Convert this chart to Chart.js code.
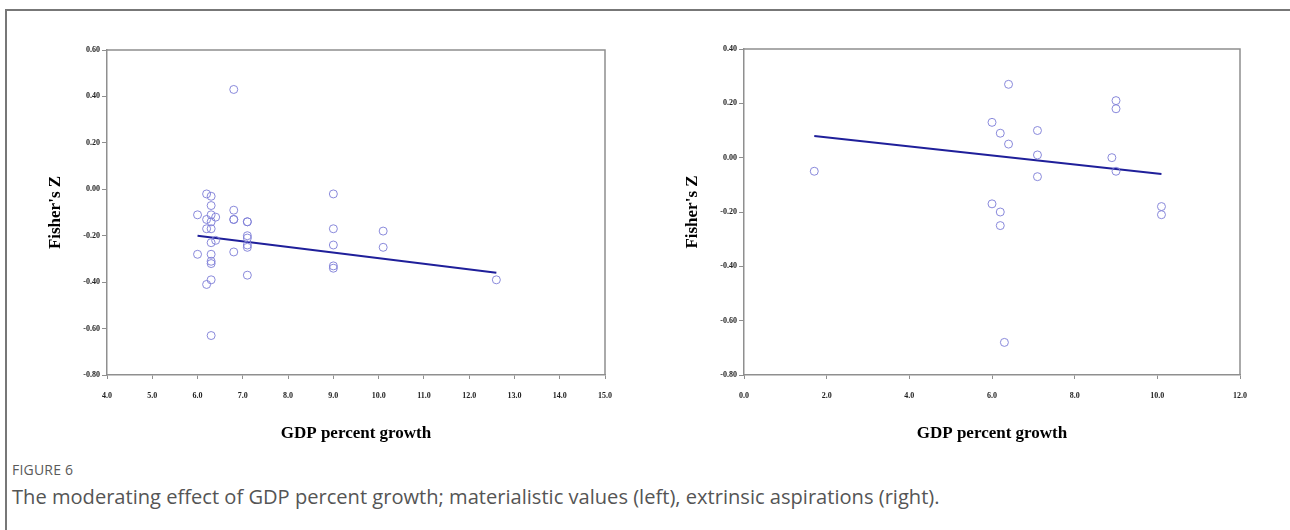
<!DOCTYPE html>
<html>
<head>
<meta charset="utf-8">
<script src="https://cdn.jsdelivr.net/npm/chart.js@4.4.1/dist/chart.umd.min.js"></script>
<style>
  html, body { margin: 0; padding: 0; background: #fff; }
  body { width: 1290px; height: 530px; position: relative; overflow: hidden; }
  .frame { position: absolute; left: 5px; top: 9px; width: 1300px; height: 600px;
           border-top: 2px solid #777; border-left: 2px solid #777; box-sizing: border-box; }
  .panel { position: absolute; top: 0; height: 460px; }
  #leftWrap { left: 0; width: 640px; }
  #rightWrap { left: 645px; width: 645px; }
  .fig-label { position: absolute; left: 12px; top: 460px; font-family: "Open Sans", sans-serif;
               font-size: 14px; line-height: 20px; color: #5a5a5a; letter-spacing: 0.2px; }
  .fig-caption { position: absolute; left: 12px; top: 484px; font-family: "Open Sans", sans-serif;
                 font-size: 20.1px; line-height: 26px; color: #555; white-space: nowrap; }
</style>
</head>
<body>
<div class="frame"></div>
<div class="panel" id="leftWrap"><canvas id="leftChart" width="640" height="460"></canvas></div>
<div class="panel" id="rightWrap"><canvas id="rightChart" width="645" height="460"></canvas></div>
<div class="fig-label">FIGURE 6</div>
<div class="fig-caption">The moderating effect of GDP percent growth; materialistic values (left), extrinsic aspirations (right).</div>

<script>
// Materialistic values: GDP growth (x) vs Fisher's Z (y)
const gdpLeft = [6.0, 6.0,
  6.2, 6.2, 6.2, 6.2,
  6.3, 6.3, 6.3, 6.3, 6.3, 6.3, 6.3, 6.3, 6.3, 6.3, 6.3,
  6.4, 6.4,
  6.8, 6.8, 6.8, 6.8, 6.8,
  7.1, 7.1, 7.1, 7.1, 7.1, 7.1, 7.1,
  9.0, 9.0, 9.0, 9.0, 9.0,
  10.1, 10.1,
  12.6];
const fisherLeft = [-0.11, -0.28,
  -0.02, -0.13, -0.17, -0.41,
  -0.03, -0.07, -0.11, -0.14, -0.17, -0.23, -0.28, -0.31, -0.32, -0.39, -0.63,
  -0.12, -0.22,
  0.43, -0.09, -0.13, -0.13, -0.27,
  -0.14, -0.14, -0.20, -0.21, -0.24, -0.25, -0.37,
  -0.02, -0.17, -0.24, -0.33, -0.34,
  -0.18, -0.25,
  -0.39];
const fitLeftX = [6.0, 12.6];
const fitLeftY = [-0.20, -0.36];

// Extrinsic aspirations: GDP growth (x) vs Fisher's Z (y)
const gdpRight = [1.7, 6.0, 6.0, 6.2, 6.2, 6.2, 6.3, 6.4, 6.4, 7.1, 7.1, 7.1, 8.9, 9.0, 9.0, 9.0, 10.1, 10.1];
const fisherRight = [-0.05, 0.13, -0.17, 0.09, -0.20, -0.25, -0.68, 0.27, 0.05, 0.10, 0.01, -0.07, 0.00, 0.21, 0.18, -0.05, -0.18, -0.21];
const fitRightX = [1.7, 10.1];
const fitRightY = [0.08, -0.06];

const xTitle = 'GDP percent growth';
const yTitle = "Fisher's Z";

const tickFont = { family: '"Liberation Serif", "Times New Roman", serif', size: 8, weight: 'bold' };
const titleFont = { family: '"Liberation Serif", "Times New Roman", serif', size: 17, weight: 'bold' };
const axisGrey = '#8f8f8f';

// Fixed-decimal tick text, avoiding "-0.00" from float rounding
function fmt(v, d) {
  const n = Math.abs(v) < 1e-9 ? 0 : v;
  return Number(n).toFixed(d);
}

// Draws the top and right sides of the plot box
const plotBox = {
  id: 'plotBox',
  afterDraw(chart) {
    const { ctx, chartArea: a } = chart;
    ctx.save();
    ctx.strokeStyle = axisGrey;
    ctx.lineWidth = 1.5;
    ctx.beginPath();
    ctx.moveTo(a.left, a.top);
    ctx.lineTo(a.right, a.top);
    ctx.lineTo(a.right, a.bottom);
    ctx.stroke();
    ctx.restore();
  }
};

function pairs(xs, ys) { return xs.map((x, i) => ({ x, y: ys[i] })); }

function makeChart(id, opts) {
  return new Chart(document.getElementById(id), {
    type: 'scatter',
    data: {
      datasets: [
        {
          data: pairs(opts.xs, opts.ys),
          pointStyle: 'circle',
          pointRadius: 4,
          pointHoverRadius: 4,
          pointBorderWidth: 1,
          borderColor: 'rgba(125,125,215,0.9)',
          backgroundColor: 'rgba(0,0,0,0)',
          showLine: false
        },
        {
          type: 'line',
          data: pairs(opts.fitX, opts.fitY),
          borderColor: '#1f1f9a',
          borderWidth: 2,
          pointRadius: 0,
          fill: false,
          tension: 0
        }
      ]
    },
    options: {
      responsive: false,
      animation: false,
      devicePixelRatio: 1,
      layout: { padding: { top: opts.top, right: opts.right, left: 0, bottom: 0 } },
      plugins: { legend: { display: false }, tooltip: { enabled: false } },
      scales: {
        x: {
          type: 'linear',
          min: opts.xMin, max: opts.xMax,
          afterFit(s) { s.height = 460 - opts.bottom; },
          ticks: { stepSize: opts.xStep, font: tickFont, color: '#222', padding: 12, maxRotation: 0,
                   callback: v => fmt(v, 1) },
          grid: { drawOnChartArea: false, drawTicks: true, tickLength: 4, color: axisGrey, lineWidth: 1 },
          border: { color: axisGrey, width: 1.5 },
          title: { display: true, text: xTitle, font: titleFont, color: '#000', padding: { top: 0, bottom: 16 } }
        },
        y: {
          type: 'linear',
          min: opts.yMin, max: opts.yMax,
          afterFit(s) { s.width = opts.left; },
          ticks: { stepSize: 0.2, font: tickFont, color: '#222', padding: 2,
                   callback: v => fmt(v, 2) },
          grid: { drawOnChartArea: false, drawTicks: true, tickLength: 5, color: axisGrey, lineWidth: 1 },
          border: { color: axisGrey, width: 1.5 },
          title: { display: true, text: yTitle, font: titleFont, color: '#000', padding: { top: opts.titleX - 10, bottom: 0 } }
        }
      }
    },
    plugins: [plotBox]
  });
}

makeChart('leftChart', {
  xs: gdpLeft, ys: fisherLeft, fitX: fitLeftX, fitY: fitLeftY,
  xMin: 4, xMax: 15, xStep: 1, yMin: -0.8, yMax: 0.6,
  top: 50, right: 35, bottom: 375, left: 107, titleX: 55
});

makeChart('rightChart', {
  xs: gdpRight, ys: fisherRight, fitX: fitRightX, fitY: fitRightY,
  xMin: 0, xMax: 12, xStep: 2, yMin: -0.8, yMax: 0.4,
  top: 49, right: 50, bottom: 375, left: 99, titleX: 47
});
</script>
</body>
</html>
